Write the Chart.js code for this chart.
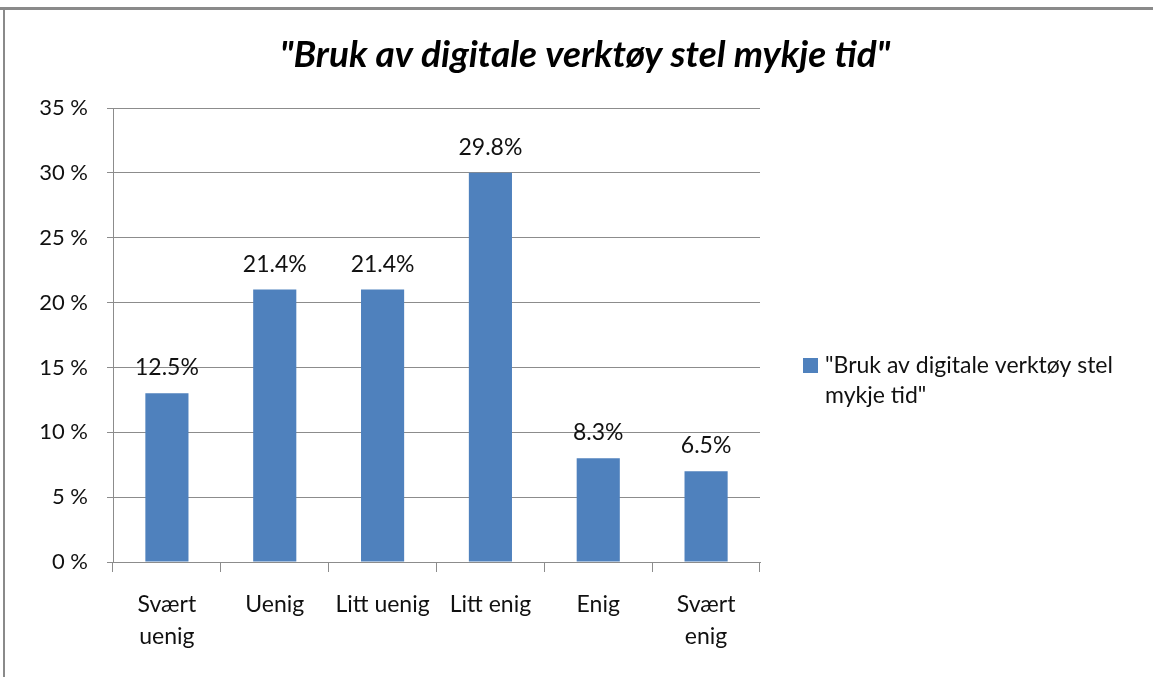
<!DOCTYPE html>
<html>
<head>
<meta charset="utf-8">
<script src="https://cdn.jsdelivr.net/npm/chart.js@4"></script>
<style>
  html, body { margin: 0; padding: 0; background: #fff; }
  #wrap { width: 1153px; height: 677px; position: relative; }
</style>
</head>
<body>
<div id="wrap"><canvas id="surveyChart" width="1153" height="677"></canvas></div>
<script>
// chart data
const categories = [['Svært', 'uenig'], 'Uenig', 'Litt uenig', 'Litt enig', 'Enig', ['Svært', 'enig']];
const barValues = [13, 21, 21, 30, 8, 7];            // bar heights as drawn (%)
const valueLabels = [12.5, 21.4, 21.4, 29.8, 8.3, 6.5]; // printed percentages
const seriesName = '"Bruk av digitale verktøy stel mykje tid"';
const legendLines = ['"Bruk av digitale verktøy stel', 'mykje tid"'];
const chartTitle = '"Bruk av digitale verktøy stel mykje tid"';

const FONT = 'Lato, "Open Sans", sans-serif';
const BAR_COLOR = '#4F81BD';
const GRID_COLOR = '#8c8c8c';

// frame, title, value labels and legend
const extrasPlugin = {
  id: 'extras',
  beforeDraw(chart) {
    const ctx = chart.ctx;
    ctx.save();
    ctx.fillStyle = '#fff';
    ctx.fillRect(0, 0, chart.width, chart.height);
    ctx.fillStyle = '#8a8a8a';
    ctx.fillRect(0, 7, chart.width, 3);
    ctx.fillRect(3, 7, 2, chart.height);

    ctx.fillStyle = '#000';
    ctx.font = 'italic bold 37px ' + FONT;
    ctx.textAlign = 'center';
    ctx.textBaseline = 'alphabetic';
    ctx.fillText(chartTitle, 585, 67);
    ctx.restore();
  },
  afterDatasetsDraw(chart) {
    const ctx = chart.ctx;
    const meta = chart.getDatasetMeta(0);
    ctx.save();
    ctx.font = '23px ' + FONT;
    ctx.fillStyle = '#111';
    ctx.textAlign = 'center';
    ctx.textBaseline = 'alphabetic';
    meta.data.forEach(function (bar, i) {
      ctx.fillText(valueLabels[i].toFixed(1) + '%', bar.x, bar.y - 18);
    });

    // legend
    ctx.fillStyle = BAR_COLOR;
    ctx.fillRect(803, 358, 15, 15);
    ctx.fillStyle = '#111';
    ctx.textAlign = 'left';
    legendLines.forEach(function (line, i) {
      ctx.fillText(line, 825, 373 + i * 30);
    });
    ctx.restore();
  }
};

new Chart(document.getElementById('surveyChart'), {
  type: 'bar',
  data: {
    labels: categories,
    datasets: [{
      label: seriesName,
      data: barValues,
      backgroundColor: BAR_COLOR,
      barPercentage: 0.4,
      categoryPercentage: 1.0
    }]
  },
  options: {
    responsive: false,
    animation: false,
    layout: { padding: { left: 18, right: 393, top: 108, bottom: 0 } },
    plugins: {
      legend: { display: false },
      tooltip: { enabled: false },
      title: { display: false }
    },
    scales: {
      x: {
        offset: true,
        grid: {
          offset: true,
          drawOnChartArea: false,
          drawTicks: true,
          tickLength: 10,
          color: GRID_COLOR
        },
        border: { color: GRID_COLOR, width: 1 },
        ticks: {
          color: '#111',
          padding: 17,
          maxRotation: 0,
          autoSkip: false,
          font: { family: FONT, size: 23, lineHeight: '32px' }
        },
        afterFit(scale) { scale.height = 115; }
      },
      y: {
        min: 0,
        max: 35,
        grid: { color: GRID_COLOR, tickLength: 6 },
        border: { color: GRID_COLOR, width: 1 },
        ticks: {
          stepSize: 5,
          color: '#111',
          padding: 19,
          font: { family: FONT, size: 22 },
          callback: function (v) { return v + ' %'; }
        },
        afterFit(scale) { scale.width = 95; }
      }
    }
  },
  plugins: [extrasPlugin]
});
</script>
</body>
</html>
